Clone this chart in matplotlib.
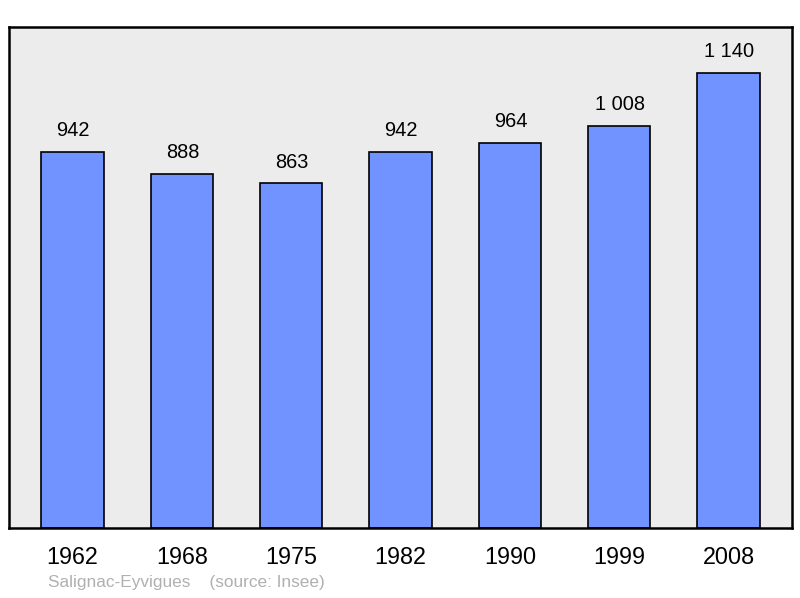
import matplotlib.pyplot as plt

annees = ["1962", "1968", "1975", "1982", "1990", "1999", "2008"]
population = [942, 888, 863, 942, 964, 1008, 1140]
etiquettes = ["942", "888", "863", "942", "964", "1 008", "1 140"]

plt.rcParams["font.family"] = ["Liberation Sans", "DejaVu Sans"]

fig = plt.figure(figsize=(8, 5.98), dpi=100)
# axes box: x 9..792, y 27..528 (pixels)
ax = fig.add_axes([9 / 800, 1 - 528 / 598, 783 / 800, 501 / 598])
ax.set_facecolor("#ececec")

x = range(len(annees))
ax.bar(x, population, width=0.57, color="#7093ff", edgecolor="black", linewidth=1.2, zorder=2)

for i, (v, t) in enumerate(zip(population, etiquettes)):
    ax.text(i + 0.005, v + 30, t, ha="center", va="bottom", fontsize=14.4)

ax.set_xlim(-0.58, 6.58)
ax.set_ylim(0, 1255)
ax.set_yticks([])
ax.set_xticks(list(x))
ax.set_xticklabels(annees, fontsize=16.8)
ax.tick_params(axis="x", length=0, pad=13)
for s in ax.spines.values():
    s.set_linewidth(1.8)

fig.text(48 / 800, 1 - 583 / 598, "Salignac-Eyvigues    (source: Insee)",
         color="#b0b0b0", fontsize=12.4, va="center")

fig.savefig("out.png", dpi=100)
